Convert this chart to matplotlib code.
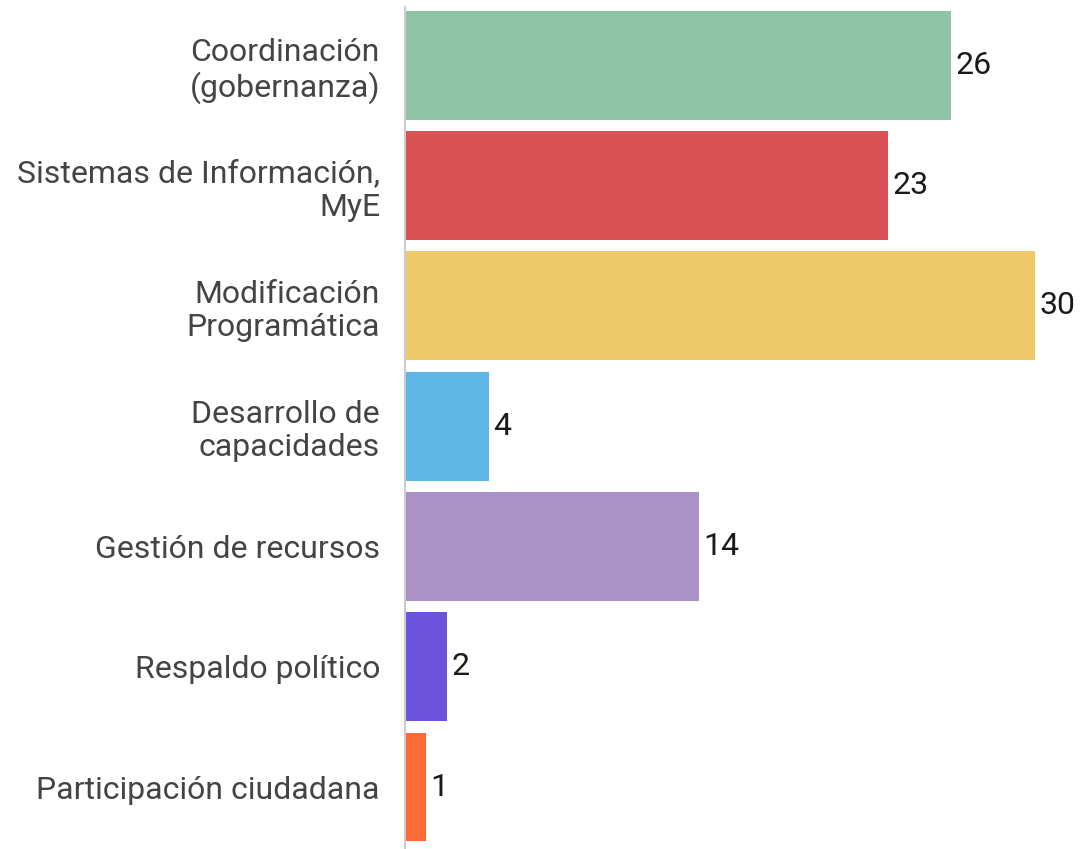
import matplotlib
matplotlib.use("Agg")
import matplotlib.pyplot as plt

categories = ["Coordinación\n(gobernanza)", "Sistemas de Información,\nMyE", "Modificación\nProgramática",
              "Desarrollo de\ncapacidades", "Gestión de recursos", "Respaldo político", "Participación ciudadana"]
values = [26, 23, 30, 4, 14, 2, 1]
colors = ["#8fc3a7", "#da5156", "#eeca6b", "#5fb5e4", "#ab92c6", "#6c53db", "#fe6a36"]

plt.rcParams['font.family'] = ['Roboto', 'DejaVu Sans']

fig = plt.figure(figsize=(10.83, 8.49), dpi=100)
ax = fig.add_axes([405/1083, 0, 1 - 405/1083, 1 - 7/849])
y = list(range(len(categories)))
ax.barh(y, values, height=0.905, color=colors)
ax.set_ylim(6.515, -0.485)
ax.set_xlim(0, 678/21)
ax.set_yticks(y)
ax.set_yticklabels(categories, fontsize=23, color="#444444", ha="right", linespacing=1.17)
ax.tick_params(axis='y', length=0, pad=18)
ax.set_xticks([])
for s in ["top", "right", "bottom"]:
    ax.spines[s].set_visible(False)
ax.spines["left"].set_color("#cccccc")
ax.spines["left"].set_linewidth(1.5)
for yi, v in zip(y, values):
    ax.text(v + 0.2, yi, str(v), va="center", ha="left", fontsize=23, color="#1a1a1a")
fig.savefig("out.png", dpi=100)
